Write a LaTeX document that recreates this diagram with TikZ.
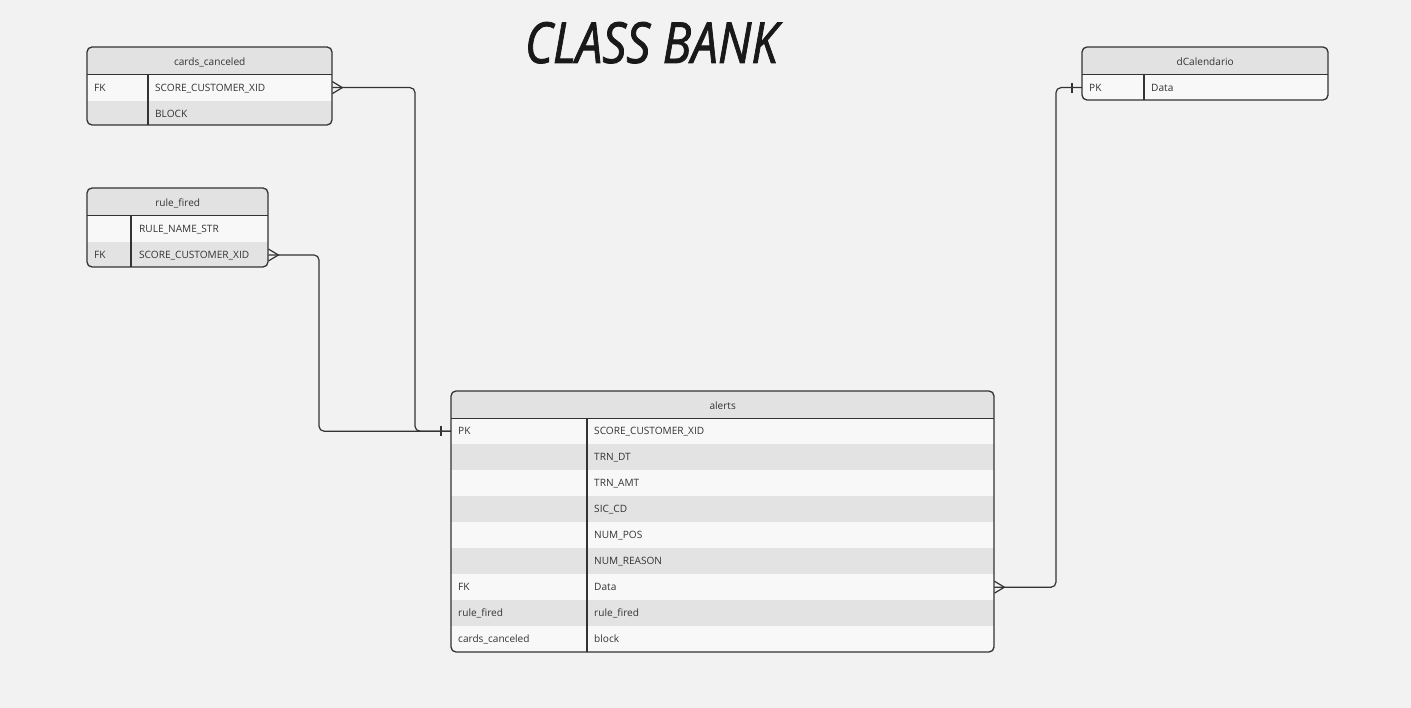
\documentclass[tikz,border=0pt]{standalone}
\usepackage{fontspec}
\setmainfont{Open Sans}
\newfontfamily\titlefont[FakeBold=1.6]{Open Sans}
\usepackage{tikz}
\usetikzlibrary{positioning,calc}
\definecolor{bankbg}{HTML}{F2F2F2}
\definecolor{bankhead}{HTML}{E2E2E2}
\definecolor{banklight}{HTML}{F8F8F8}
\definecolor{bankdark}{HTML}{E3E3E3}
\definecolor{bankline}{HTML}{333333}
\tikzset{
  tblhead/.style={fill=bankhead, minimum height=27pt, inner sep=0pt, anchor=north west,
                  text height=9.5pt, text depth=0.5pt,
                  font=\fontsize{10.1}{12}\selectfont, text=bankline},
  rowlt/.style={fill=banklight, minimum height=26pt, inner sep=0pt},
  rowdk/.style={rowlt, fill=bankdark},
  cell/.style={anchor=west, inner sep=0pt, text height=8.5pt, text depth=1.5pt,
               font=\fontsize{10.1}{12}\selectfont, text=bankline},
  tbl/.style={draw=bankline, line width=1.3pt, rounded corners=5pt},
  sep/.style={draw=bankline, line width=1.1pt},
  rel/.style={draw=bankline, line width=1.2pt, rounded corners=5pt},
}

\begin{document}
\begin{tikzpicture}[x=1pt,y=-1pt]
  \useasboundingbox[fill=bankbg] (0,0) rectangle (1411,708);
  % title
  \node[inner sep=0pt, anchor=base, text=black!90] (title) at (651.5,63)
       {\resizebox{253pt}{41pt}{\titlefont\itshape CLASS BANK}};

  % cards_canceled
  \begin{scope}
    \clip[rounded corners=5pt] (87,47) rectangle (332,125);
    \node[tblhead, minimum width=245pt] (cc) at (87,47) {cards\_canceled};
    \node[rowlt, minimum width=245pt, below=0pt of cc] (cc-1) {};
    \node[rowdk, minimum width=245pt, below=0pt of cc-1] (cc-2) {};
  \end{scope}
  \node[cell] (cc-1k) at ([xshift=7pt]cc-1.west) {FK};
  \node[cell] (cc-1f) at ([xshift=68pt]cc-1.west) {SCORE\_CUSTOMER\_XID};
  \node[cell] (cc-2f) at ([xshift=68pt]cc-2.west) {BLOCK};
  \draw[sep] (cc.south west) -- (cc.south east);
  \draw[sep] (148,74) -- (148,125);
  \draw[tbl] (87,47) rectangle (332,125);

  % rule_fired
  \begin{scope}
    \clip[rounded corners=5pt] (87,188) rectangle (268,267);
    \node[tblhead, minimum width=181pt] (rf) at (87,188) {rule\_fired};
    \node[rowlt, minimum width=181pt, below=0pt of rf] (rf-1) {};
    \node[rowdk, minimum width=181pt, below=0pt of rf-1] (rf-2) {};
  \end{scope}
  \node[cell] (rf-1f) at ([xshift=52pt]rf-1.west) {RULE\_NAME\_STR};
  \node[cell] (rf-2k) at ([xshift=7pt]rf-2.west) {FK};
  \node[cell] (rf-2f) at ([xshift=52pt]rf-2.west) {SCORE\_CUSTOMER\_XID};
  \draw[sep] (rf.south west) -- (rf.south east);
  \draw[sep] (131,215) -- (131,267);
  \draw[tbl] (87,188) rectangle (268,267);

  % dCalendario
  \begin{scope}
    \clip[rounded corners=5pt] (1082,47) rectangle (1328,100);
    \node[tblhead, minimum width=246pt] (dc) at (1082,47) {dCalendario};
    \node[rowlt, minimum width=246pt, below=0pt of dc] (dc-1) {};
  \end{scope}
  \node[cell] (dc-1k) at ([xshift=7pt]dc-1.west) {PK};
  \node[cell] (dc-1f) at ([xshift=69pt]dc-1.west) {Data};
  \draw[sep] (dc.south west) -- (dc.south east);
  \draw[sep] (1144,74) -- (1144,100);
  \draw[tbl] (1082,47) rectangle (1328,100);

  % alerts
  \begin{scope}
    \clip[rounded corners=5pt] (451,391) rectangle (994,652);
    \node[tblhead, minimum width=543pt] (al) at (451,391) {alerts};
    \foreach \key/\fld/\sty [count=\i] in {PK/SCORE\_CUSTOMER\_XID/rowlt, {}/TRN\_DT/rowdk,
        {}/TRN\_AMT/rowlt, {}/SIC\_CD/rowdk, {}/NUM\_POS/rowlt, {}/NUM\_REASON/rowdk,
        FK/Data/rowlt, rule\_fired/rule\_fired/rowdk, cards\_canceled/block/rowlt} {
      \node[\sty, minimum width=543pt, anchor=north west] (al-\i) at (451,{418+26*(\i-1)}) {};
      \node[cell] (al-\i-k) at ([xshift=7pt]al-\i.west) {\key};
      \node[cell] (al-\i-f) at ([xshift=143pt]al-\i.west) {\fld};
    }
  \end{scope}
  \draw[sep] (al.south west) -- (al.south east);
  \draw[sep] (587,418) -- (587,652);
  \draw[tbl] (451,391) rectangle (994,652);

  % relations
  \draw[rel] (cc-1.east) -| ([xshift=-36pt]al-1.west) -- (al-1.west);
  \draw[rel] (rf-2.east) -| ([xshift=-132pt]al-1.west) -- (al-1.west);
  \draw[rel] (al-7.east) -| ([xshift=-26pt]dc-1.west) -- (dc-1.west);
  % crow feet (many)
  \foreach \n in {cc-1,rf-2,al-7}
    \draw[rel, rounded corners=0pt] ([yshift=-6pt]\n.east) -- ([xshift=10pt]\n.east) -- ([yshift=6pt]\n.east);
  % bars (one)
  \foreach \n in {al-1,dc-1}
    \draw[rel] ([xshift=-10pt,yshift=-5pt]\n.west) -- ([xshift=-10pt,yshift=5pt]\n.west);
\end{tikzpicture}
\end{document}
